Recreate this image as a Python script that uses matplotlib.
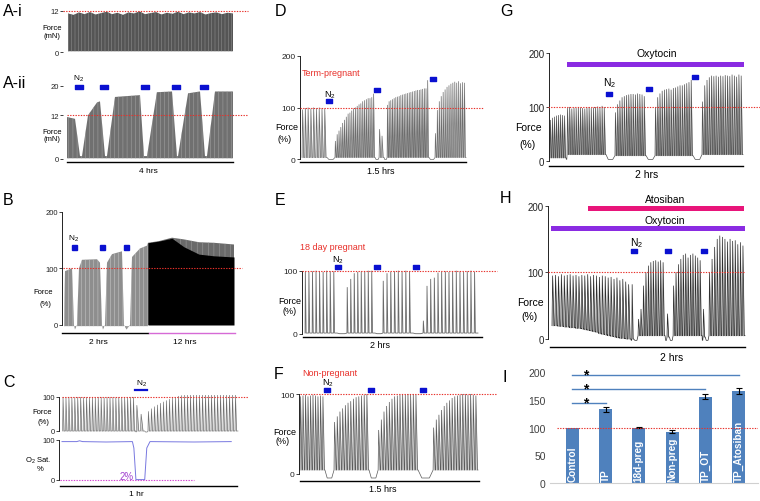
import numpy as np
import matplotlib
matplotlib.use('Agg')
import matplotlib.pyplot as plt
from matplotlib.lines import Line2D
from matplotlib.patches import Rectangle
from matplotlib.path import Path

plt.rcParams['font.family'] = ['Liberation Sans', 'DejaVu Sans']
plt.rcParams['mathtext.default'] = 'regular'
plt.rcParams['hatch.linewidth'] = 0.4

# ------------------------------------------------------------------ DATA
# A-i : envelope of the dense contraction record (mN), 0-240 min
A1_t = [0, 8, 16, 24, 32, 40, 48, 56, 64, 72, 80, 88, 96, 104, 112, 120, 128, 136,
        144, 152, 160, 168, 176, 184, 192, 200, 208, 216, 224, 232, 240]
A1_top = [11.2, 10.8, 11.5, 11.0, 11.6, 10.9, 11.3, 11.7, 11.0, 11.4, 10.8, 11.5, 11.2,
          11.8, 11.0, 11.3, 11.6, 10.9, 11.4, 11.1, 11.7, 11.0, 11.5, 11.2, 11.6, 10.9,
          11.3, 11.5, 11.0, 11.4, 11.2]
# A-ii : envelope (mN), 0-240 min
A2_t = [0, 11.6, 18.8, 21.7, 30.4, 43.4, 47.7, 55, 57.8, 69.4, 105.6, 111.3, 115.7,
        130, 151.8, 159, 160.5, 175, 192.3, 199.5, 202.4, 214, 240]
A2_top = [11.5, 11, 0.8, 0.8, 12, 15.5, 15.8, 0.8, 0.8, 17, 17.5, 0.8, 0.8, 18.3, 18.5,
          0.8, 0.8, 18, 18.5, 0.8, 0.8, 18.5, 18.5]
A2_n2 = [17.4, 53.5, 112.8, 157.6, 198.1]

# B : 2 hrs (0-120) then 12 hrs compressed (120-240)
B_t = [2.8, 4.2, 14, 16.7, 18.1, 20.9, 23.7, 27.9, 48.8, 53, 55.8, 57.2, 60, 62.8,
       69.8, 83.7, 86.5, 90, 94.9, 97.7, 108.8, 118.6, 120]
B_top = [0, 95, 100, 0, -8, 0, 100, 115, 116, 110, 0, -8, 0, 110, 125, 130, 0, -8, 0,
         120, 135, 140, 145]
B12_t = [120, 135.3, 153.5, 170, 191, 212, 240]
B12_top = [145, 148, 154, 151, 146, 145, 142]
B12_black = [145, 148, 153, 138, 125, 122, 120]
B_n2 = [16.7, 55.8, 89.3]

# C : force (%) and O2 saturation (%), 0-60 min
C_seg1 = [100, 99, 100, 100, 99, 100, 100, 99, 100, 100, 100, 99, 100, 100, 99, 100,
          100, 100, 99, 100, 100, 99, 100, 100, 100]
C_seg2 = [76, 50]
C_seg3 = [58, 66, 72, 77, 82, 86, 90, 94, 97, 100, 103, 105, 106, 107, 107, 108, 108,
          107, 108, 108, 107, 108, 108, 107, 108, 108, 107, 108, 108, 107]
C_o2_t = [0, 5, 6, 7, 15, 24.0, 24.5, 25.2, 28.2, 28.9, 30.0, 45, 57.7]
C_o2 = [96, 96, 98, 96, 95, 96, 80, 1, 1, 80, 96, 95, 96]

# D : term-pregnant (%), 0-90 min
D_seg1 = [96, 99, 100, 98, 100, 99, 100, 99, 98]
D_seg2 = [35, 48, 55, 62, 70, 76, 82, 88, 90, 94, 98, 100, 103, 106, 108, 112, 114,
          116, 118, 118, 120, 127]
D_seg2b = [58, 45]
D_seg3 = [105, 112, 114, 116, 118, 120, 121, 122, 124, 125, 126, 127, 128, 129, 130,
          131, 132, 133, 134, 134, 135, 136, 137, 137, 153]
D_seg4 = [50, 95, 112, 122, 130, 135, 140, 143, 146, 148, 150, 148, 151, 147, 149, 148]
D_n2 = [14.8, 41.2, 71.9]
D_n2_y = [113, 134, 156]

# E : 18 day pregnant (%), 0-120 min
E_seg1 = [99, 98, 99, 100, 99, 98, 100, 99, 99]
E_seg2 = [74, 87, 96, 98, 99, 99, 100, 100]
E_seg3 = [84, 96, 98, 99, 100, 99, 100, 99]
E_seg4 = [21, 76, 87, 89, 97, 98, 99, 98, 99, 100, 99, 98, 99, 100, 98]
E_n2 = [23.7, 50.2, 76.6]

# F : non-pregnant (%), 0-90 min
F_seg1 = [97, 98, 99, 97, 98, 99, 98, 97, 98, 97]
F_seg2 = [65, 72, 78, 82, 86, 89, 91, 94, 96, 97, 98, 99, 100]
F_seg3 = [55, 68, 78, 85, 90, 94, 97, 98, 99, 100, 99, 100, 99, 100, 99]
F_seg4 = [58, 68, 74, 80, 85, 89, 92, 95, 97, 98, 99, 100, 100, 99, 100, 99, 98]
F_n2 = [13.7, 35.9, 62.2]

# G : oxytocin (%), 0-120 min
G_seg0 = [76, 80, 82, 84, 85, 86, 85, 84]
G_seg1 = [98, 100, 97, 99, 98, 100, 99, 98, 97, 99, 100, 98, 99, 100, 101, 100, 102, 100]
G_seg2 = [90, 105, 112, 118, 120, 122, 123, 124, 124, 123, 125, 124, 123, 120]
G_seg3 = [100, 118, 125, 130, 132, 133, 134, 132, 135, 136, 138, 140, 140, 142, 144,
          146, 150]
G_seg4 = [110, 140, 150, 155, 158, 157, 158, 156, 158, 157, 159, 158, 157, 160, 158,
          156, 160, 158]
G_n2 = [36.7, 61.6, 90.2]
G_n2_y = [124, 133, 155]

# H : oxytocin + atosiban (%), 0-120 min
H_seg1 = [95, 96, 94, 97, 95, 96, 97, 95, 96, 94, 96, 95, 97, 94, 96, 95, 93, 95, 94,
          92, 93, 90, 92, 88, 90, 86, 82]
H_base1 = [20, 20, 19, 19, 18, 18, 17, 17, 16, 16, 15, 14, 13, 12, 11, 10, 8, 7, 6, 5,
           4, 3, 2, 1, 1, 0, 0]
H_seg2 = [30, 45, 80, 100, 110, 115, 117, 118, 116, 118, 115]
H_seg2b = [38]
H_seg3 = [80, 100, 112, 120, 126, 128, 122, 126, 128, 125, 122, 118]
H_seg3b = [45]
H_seg4 = [100, 120, 138, 150, 155, 153, 150, 146, 150, 147, 148, 142, 145, 140]
H_n2 = [51, 72.2, 94.5]

# I : summary bars
I_cats = ['Control', 'TP', '18d-preg', 'Non-preg', 'TP_OT', 'TP_Atosiban']
I_vals = [100, 133, 100, 93, 156, 166]
I_err = [0, 5, 1, 3, 5, 5]
I_sig_end = [5, 4, 1]
I_sig_y = [195, 169, 144]

# ------------------------------------------------------------------ HELPERS
W, H = 760, 502
fig = plt.figure(figsize=(W / 100, H / 100), dpi=100)

RED = '#e8302a'
BLUE = '#0a10d0'
rect_m = Path([(-1, -0.62), (1, -0.62), (1, 0.62), (-1, 0.62), (-1, -0.62)],
              [Path.MOVETO, Path.LINETO, Path.LINETO, Path.LINETO, Path.CLOSEPOLY])


def inv(p, m):
    p1, v1, p2, v2 = m
    return v1 + (p - p1) * (v2 - v1) / (p2 - p1)


def make_ax(pl, pr, mx, pt, pb, my):
    ax = fig.add_axes([pl / W, 1 - pb / H, (pr - pl) / W, (pb - pt) / H])
    ax.set_xlim(inv(pl, mx), inv(pr, mx))
    ax.set_ylim(inv(pb, my), inv(pt, my))
    ax.patch.set_alpha(0)
    for s in ['top', 'right', 'bottom']:
        ax.spines[s].set_visible(False)
    ax.set_xticks([])
    return ax


def style_y(ax, ticks, size, spine=True):
    ax.set_yticks(ticks)
    ax.set_yticklabels([str(t) for t in ticks])
    ax.tick_params(axis='y', length=2, width=0.6, pad=1, labelsize=size, colors='#222222')
    if spine:
        ax.spines['left'].set_bounds(ticks[0], ticks[-1])
        ax.spines['left'].set_linewidth(0.6)
    else:
        ax.spines['left'].set_visible(False)


def T(x, y, s, size=6, ha='center', va='center', color='black', **kw):
    fig.text(x / W, 1 - y / H, s, fontsize=size, ha=ha, va=va, color=color, **kw)


def HL(x0, x1, y, color='black', lw=0.8, ls='-'):
    fig.add_artist(Line2D([x0 / W, x1 / W], [1 - y / H, 1 - y / H], color=color, lw=lw,
                          ls=ls, transform=fig.transFigure))


def BAR(x0, x1, yc, h, color):
    fig.add_artist(Rectangle((x0 / W, 1 - (yc + h / 2) / H), (x1 - x0) / W, h / H,
                             color=color, transform=fig.transFigure, lw=0))


def build(segs, gap):
    X, Y, Bs = [], [], []
    for k, (t0, t1, peaks, base, rise, fall) in enumerate(segs):
        n = len(peaks)
        dt = (t1 - t0) / n
        if k > 0:
            pe = X[-1]
            X += [pe + 0.25 * (t0 - pe), t0 - 0.25 * (t0 - pe)]
            Y += [gap, gap]
            Bs += [gap, gap]
        for i, p in enumerate(peaks):
            b = base[i] if isinstance(base, list) else base
            t = t0 + i * dt
            X += [t, t + rise * dt, t + (rise + fall) * dt, t + dt]
            Y += [b, p, b, b]
            Bs += [b, b, b, b]
    return np.array(X), np.array(Y), np.array(Bs)


def draw_trace(ax, segs, gap, edge, fill, lw=0.5):
    X, Y, Bs = build(segs, gap)
    if fill is not None:
        ax.fill_between(X, Bs, Y, color=fill, lw=0)
    ax.plot(X, Y, color=edge, lw=lw, solid_joinstyle='miter')


def red_line(ax, y, x0, x1):
    ax.plot([x0, x1], [y, y], ls=(0, (1.2, 1.2)), color=RED, lw=0.8, clip_on=False, zorder=5)


def n2(ax, xs, ys, ms, marker=rect_m):
    ax.plot(xs, ys, ls='none', marker=marker, ms=ms, color=BLUE, clip_on=False, zorder=6)


# ------------------------------------------------------------------ A-i
mx = (68, 0, 233, 240)
my = (53.3, 0, 11.7, 12)
ax = make_ax(63, 248, mx, 11.7, 54, my)
ax.fill_between(A1_t, 0.3, A1_top, facecolor='#555555', edgecolor='#8c8c8c', hatch='|||||',
                lw=0)
style_y(ax, [0, 12], 5.5, spine=False)
red_line(ax, 12, inv(63, mx), inv(248, mx))
T(3, 12, 'A-i', 11.5, ha='left')
T(52, 28, 'Force', 5.5)
T(52, 37, '(mN)', 5.5)

# ------------------------------------------------------------------ A-ii
mx = (67, 0, 233, 240)
my = (160, 0, 87, 20)
ax = make_ax(63, 248, mx, 85, 161, my)
ax.fill_between(A2_t, 0.2, A2_top, facecolor='#707070', edgecolor='#a0a0a0', hatch='||||',
                lw=0)
style_y(ax, [0, 12, 20], 5.5, spine=False)
red_line(ax, 12, inv(67, mx), inv(248, mx))
n2(ax, A2_n2, [19.7] * len(A2_n2), 5.8)
HL(67, 233, 163, lw=1.0)
T(3, 83, 'A-ii', 11.5, ha='left')
T(79, 79, 'N$_2$', 6)
T(52, 132, 'Force', 5.5)
T(52, 140, '(mN)', 5.5)
T(148, 172, '4 hrs', 6)

# ------------------------------------------------------------------ B
mx = (62, 0, 148, 120)
my = (326, 0, 269.3, 100)
ax = make_ax(62, 245, mx, 209, 332, my)
ax.fill_between(B_t, -2, B_top, facecolor='#8e8e8e', edgecolor='#c4c4c4', hatch='||||', lw=0)
ax.fill_between(B12_t, 0, B12_top, facecolor='#6a6a6a', edgecolor='#9a9a9a', hatch='|||',
                lw=0)
ax.fill_between(B12_t, 0, B12_black, color='black', lw=0)
style_y(ax, [0, 100, 200], 5.5)
red_line(ax, 100, inv(63, mx), inv(242, mx))
n2(ax, B_n2, [138] * len(B_n2), 3.6, marker='s')
HL(62, 148, 334, lw=1.0)
HL(149, 235, 334, color='#d66ad6', lw=1.0)
T(3, 201, 'B', 11.5, ha='left')
T(74, 239, 'N$_2$', 6)
T(43, 293, 'Force', 5.5)
T(45, 305, '(%)', 5.5)
T(98, 343, '2 hrs', 6)
T(185, 343, '12 hrs', 6)

# ------------------------------------------------------------------ C
mx = (62, 0, 238, 60)
my = (432, 0, 398, 100)
ax = make_ax(59, 248, mx, 396, 434, my)
segs = [(0.2, 25.2, C_seg1, 0, 0.15, 0.35),
        (25.3, 28.2, C_seg2, 0, 0.15, 0.45),
        (29.3, 60, C_seg3, 0, 0.15, 0.35)]
draw_trace(ax, segs, -3, '#707070', '#c8c8c8', lw=0.45)
style_y(ax, [0, 100], 5.5)
red_line(ax, 100, inv(62, mx), inv(248, mx))
HL(135, 147, 391, color=BLUE, lw=1.6)
T(142, 384, 'N$_2$', 6)
T(3, 383, 'C', 11.5, ha='left')
T(42, 413, 'Force', 5.5)
T(43, 423, '(%)', 5.5)

my2 = (481, 0, 441, 100)
ax2 = make_ax(59, 248, mx, 439, 484, my2)
ax2.plot(C_o2_t, C_o2, color='#7878e0', lw=0.7)
style_y(ax2, [0, 100], 5.5)
ax2.plot([inv(60, mx), inv(194, mx)], [0, 0], ls=(0, (1.2, 1.2)), color='#d040d0', lw=0.8,
         clip_on=False)
T(127, 477, '2%', 7, color='#a040d0')
T(38, 461, 'O$_2$ Sat.', 5.5)
T(40, 470, '%', 5.5)
HL(60, 237, 487, lw=1.0)
T(136, 495, '1 hr', 6)

# ------------------------------------------------------------------ D
mx = (302, 0, 466, 90)
my = (160, 0, 108.3, 100)
ax = make_ax(300, 483, mx, 57, 162, my)
segs = [(0, 13.7, D_seg1, 3, 0.2, 0.45),
        (18.1, 40.1, D_seg2, 3, 0.2, 0.45),
        (42.3, 45.0, D_seg2b, 3, 0.2, 0.45),
        (46.7, 69.7, D_seg3, 3, 0.2, 0.45),
        (73.0, 90, D_seg4, 3, 0.2, 0.45)]
draw_trace(ax, segs, -1, '#6e6e6e', '#c4c4c4', lw=0.5)
style_y(ax, [0, 100, 200], 6)
red_line(ax, 100, inv(300, mx), inv(483, mx))
n2(ax, D_n2, D_n2_y, 3.8)
HL(300, 466, 162.7, lw=1.0)
T(275, 11, 'D', 11.5, ha='left')
T(302, 73, 'Term-pregnant', 6.5, ha='left', color=RED)
T(330, 95, 'N$_2$', 6.5)
T(287, 128, 'Force', 6.5)
T(285, 140, '(%)', 6.5)
T(381, 172, '1.5 hrs', 6.5)

# ------------------------------------------------------------------ E
mx = (303, 0, 480, 120)
my = (335, 0, 271.7, 100)
ax = make_ax(301.7, 497, mx, 270, 337, my)
segs = [(1.4, 23.1, E_seg1, 1.5, 0.08, 0.22),
        (29.8, 48.8, E_seg2, 1.5, 0.08, 0.22),
        (54.2, 74.6, E_seg3, 1.5, 0.08, 0.22),
        (81.4, 118.6, E_seg4, 1.5, 0.08, 0.22)]
draw_trace(ax, segs, 0.5, '#6a6a6a', None, lw=0.6)
style_y(ax, [0, 100], 6)
red_line(ax, 100, inv(302, mx), inv(497, mx))
n2(ax, E_n2, [106] * len(E_n2), 3.8)
HL(303, 482, 338, lw=1.0)
T(275, 201, 'E', 11.5, ha='left')
T(300, 248, '18 day pregnant', 6.5, ha='left', color=RED)
T(338, 260, 'N$_2$', 6.5)
T(290, 301, 'Force', 6.5)
T(290, 311, '(%)', 6.5)
T(380, 346, '2 hrs', 6.5)

# ------------------------------------------------------------------ F
mx = (300, 0, 478, 90)
my = (475, 0, 395, 100)
ax = make_ax(299, 497, mx, 393, 481, my)
segs = [(0, 12.6, F_seg1, 5, 0.2, 0.6),
        (17.2, 34.9, F_seg2, 5, 0.2, 0.6),
        (39.5, 59.7, F_seg3, 5, 0.2, 0.6),
        (67.3, 90, F_seg4, 5, 0.2, 0.6)]
draw_trace(ax, segs, -5, '#5a5a5a', '#cfcfcf', lw=0.5)
style_y(ax, [0, 100], 6)
red_line(ax, 100, inv(300, mx), inv(497, mx))
n2(ax, F_n2, [105] * len(F_n2), 4)
HL(300, 479, 481.7, lw=1.0)
T(274, 375, 'F', 11.5, ha='left')
T(302, 373, 'Non-pregnant', 6.5, ha='left', color=RED)
T(328, 383, 'N$_2$', 6.5)
T(285, 433, 'Force', 6.5)
T(283, 442, '(%)', 6.5)
T(383, 490, '1.5 hrs', 6.5)

# ------------------------------------------------------------------ G
mx = (550, 0, 743, 120)
my = (162, 0, 108, 100)
ax = make_ax(548.5, 760, mx, 53, 165, my)
segs = [(0, 10, G_seg0, 6, 0.2, 0.5),
        (10.6, 34.8, G_seg1, 12, 0.2, 0.5),
        (40.4, 59.7, G_seg2, 10, 0.2, 0.5),
        (65.3, 88.9, G_seg3, 10, 0.2, 0.5),
        (94.5, 120, G_seg4, 12, 0.2, 0.5)]
draw_trace(ax, segs, 3, '#505050', '#8e8e8e', lw=0.5)
style_y(ax, [0, 100, 200], 7)
red_line(ax, 100, inv(548, mx), inv(760, mx))
n2(ax, G_n2, G_n2_y, 4.5)
BAR(567, 744, 65.5, 5, '#8a2be2')
HL(549, 743, 167, lw=1.0)
T(500, 11, 'G', 11.5, ha='left')
T(657, 54, 'Oxytocin', 7.5)
T(610, 83, 'N$_2$', 7.5)
T(528, 128, 'Force', 7.5)
T(528, 145, '(%)', 7.5)
T(647, 175, '2 hrs', 7.5)

# ------------------------------------------------------------------ H
mx = (552, 0, 745, 120)
my = (340, 0, 273.3, 100)
ax = make_ax(548, 760, mx, 206, 344, my)
segs = [(0, 49.1, H_seg1, H_base1, 0.2, 0.5),
        (49.6, 50.8, [82], 0, 0.2, 0.5),
        (53.5, 70.3, H_seg2, 5, 0.2, 0.5),
        (71.5, 73.0, H_seg2b, 3, 0.2, 0.5),
        (75.3, 93.3, H_seg3, 5, 0.2, 0.5),
        (93.9, 95.3, H_seg3b, 3, 0.2, 0.5),
        (97.6, 120, H_seg4, 5, 0.2, 0.5)]
draw_trace(ax, segs, -2, '#2e2e2e', '#b4b4b4', lw=0.5)
style_y(ax, [0, 100, 200], 7)
red_line(ax, 100, inv(548, mx), inv(745, mx))
n2(ax, H_n2, [132] * len(H_n2), 4.8)
BAR(588, 744, 209.5, 5, '#e8157a')
BAR(551, 745, 229.5, 5, '#8a2be2')
HL(550, 745, 348, lw=1.0)
T(500, 199, 'H', 11.5, ha='left')
T(665, 200, 'Atosiban', 7.5)
T(665, 221, 'Oxytocin', 7.5)
T(637, 243, 'N$_2$', 7.5)
T(530, 303, 'Force', 7.5)
T(530, 317, '(%)', 7.5)
T(672, 358, '2 hrs', 7.5)

# ------------------------------------------------------------------ I
mx = (572.3, 0, 738.7, 5)
my = (484, 0, 373.3, 200)
axI = fig.add_axes([550 / W, 1 - 484 / H, (758 - 550) / W, (484 - 373.3) / H])
axI.set_xlim(inv(550, mx), inv(758, mx))
axI.set_ylim(0, 200)
xi = np.arange(len(I_cats))
axI.bar(xi, I_vals, width=0.39, color='#4f81bd', zorder=2)
em = [i for i in range(len(I_err)) if I_err[i] > 0]
axI.errorbar([xi[i] for i in em], [I_vals[i] for i in em], yerr=[I_err[i] for i in em],
             fmt='none', ecolor='black', elinewidth=0.8, capsize=2, capthick=0.8, zorder=3)
for i, c in enumerate(I_cats):
    axI.text(i, 3, c, rotation=90, ha='center', va='bottom', color='white',
             fontsize=7.2, fontweight='bold', zorder=4)
for e, y in zip(I_sig_end, I_sig_y):
    axI.plot([0, e], [y, y], color='#4f81bd', lw=1.0, clip_on=False)
    axI.text(0.4, y + 1, '*', ha='center', va='center', fontsize=10, fontweight='bold')
axI.plot([inv(556.7, mx), inv(758, mx)], [100, 100], ls=(0, (1.2, 1.2)), color=RED, lw=0.8,
         zorder=5)
axI.set_yticks([0, 50, 100, 150, 200])
axI.tick_params(axis='y', length=0, pad=3, labelsize=7.5, colors='#404040')
axI.set_xticks([])
for s in ['top', 'right', 'left']:
    axI.spines[s].set_visible(False)
axI.spines['bottom'].set_color('#d0d0d0')
axI.spines['bottom'].set_linewidth(0.8)
axI.patch.set_alpha(0)
T(502, 378, 'I', 11.5, ha='left')

fig.savefig('out.png', dpi=100)
